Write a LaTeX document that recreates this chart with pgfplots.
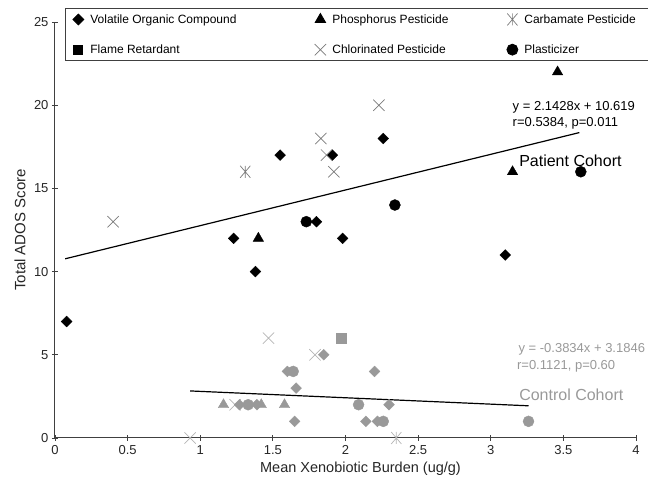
\documentclass[border=0pt]{standalone}
\usepackage{fontspec}
\setmainfont{Liberation Sans}
\usepackage{pgfplots}
\pgfplotsset{compat=1.18}
\usetikzlibrary{plotmarks}

\definecolor{axisgray}{HTML}{404040}
\definecolor{xgray}{HTML}{7A7A7A}
\definecolor{ctrlgray}{HTML}{999999}
\definecolor{ctrlxgray}{HTML}{B5B5B5}

% X with a vertical bar (carbamate marker)
\pgfdeclareplotmark{xbar}{%
  \pgfpathmoveto{\pgfqpoint{-.85\pgfplotmarksize}{-\pgfplotmarksize}}%
  \pgfpathlineto{\pgfqpoint{.85\pgfplotmarksize}{\pgfplotmarksize}}%
  \pgfpathmoveto{\pgfqpoint{-.85\pgfplotmarksize}{\pgfplotmarksize}}%
  \pgfpathlineto{\pgfqpoint{.85\pgfplotmarksize}{-\pgfplotmarksize}}%
  \pgfpathmoveto{\pgfqpoint{0pt}{-\pgfplotmarksize}}%
  \pgfpathlineto{\pgfqpoint{0pt}{\pgfplotmarksize}}%
  \pgfusepathqstroke}

\begin{document}
\begin{tikzpicture}
\useasboundingbox (-55pt,-43pt) rectangle (593pt,438pt);
\begin{axis}[
  scale only axis,
  width=581pt, height=416pt,
  xmin=0, xmax=4, ymin=0, ymax=25,
  xtick={0,0.5,...,4}, ytick={0,5,...,25},
  axis x line*=bottom, axis y line*=left,
  axis line style={axisgray, line width=1pt, -},
  tick style={axisgray, line width=0.8pt},
  tick align=center, major tick length=6pt,
  tick label style={font=\fontsize{13}{15}\selectfont, text=black!85},
  xticklabel style={yshift=-1pt},
  /pgf/number format/assume math mode=true,
  xlabel={Mean Xenobiotic Burden (ug/g)},
  ylabel={Total ADOS Score},
  xlabel style={font=\fontsize{14.5}{17}\selectfont, text=black!85,
    at={(axis description cs:0.5,0)}, anchor=center, yshift=-31pt, xshift=15pt},
  ylabel style={font=\fontsize{15}{17}\selectfont, text=black!85,
    at={(axis description cs:0,0.5)}, anchor=center, yshift=35pt},
  clip=false,
  legend columns=3,
  legend cell align=left,
  legend image code/.code={%
    \path[draw=none,fill=none] (0pt,-1pt) rectangle (19pt,1pt);
    \draw[mark repeat=2,mark phase=2] plot coordinates {(0pt,0pt)(9pt,0pt)(19pt,0pt)};},
  legend style={draw=axisgray, line width=0.8pt, at={(rel axis cs:0.0172,1.0337)}, anchor=north west,
    font=\fontsize{12}{14}\selectfont, row sep=16pt, inner sep=4pt,
    /tikz/every even column/.append style={column sep=0pt}},
]
% ---- patient cohort (legend order) ----
\addplot[only marks, mark=square*, mark size=3.8pt, mark options={rotate=45, fill=black, draw=black}] coordinates {
 (0.08,7) (1.23,12) (1.38,10) (1.55,17) (1.80,13) (1.91,17) (1.98,12) (2.26,18) (3.10,11)
};
\addlegendentry{\makebox[219pt][l]{Volatile Organic Compound}}
\addplot[only marks, mark=triangle*, mark size=6pt, mark options={fill=black, draw=black}] coordinates {
 (1.40,12) (3.15,16) (3.46,22)
};
\addlegendentry{\makebox[169pt][l]{Phosphorus Pesticide}}
\addplot[only marks, mark=xbar, mark size=6pt, mark options={draw=xgray, line width=0.7pt}] coordinates {
 (1.31,16)
};
\addlegendentry{\makebox[135pt][l]{Carbamate Pesticide}}
\addlegendimage{only marks, mark=square*, mark size=4.5pt, mark options={fill=black, draw=black}}
\addlegendentry{Flame Retardant}
\addplot[only marks, mark=x, mark size=8pt, mark options={draw=xgray, line width=0.7pt}] coordinates {
 (0.40,13) (1.83,18) (1.87,17) (1.92,16) (2.23,20)
};
\addlegendentry{Chlorinated Pesticide}
\addplot[only marks, mark=*, mark size=5.5pt, mark options={fill=black, draw=black}] coordinates {
 (1.73,13) (2.34,14) (3.62,16)
};
\addlegendentry{Plasticizer}

% ---- control cohort ----
\addplot[forget plot, only marks, mark=x, mark size=8pt, mark options={draw=ctrlxgray, line width=0.7pt}] coordinates {
 (1.47,6) (1.79,5) (1.24,2) (0.93,0)
};
\addplot[forget plot, only marks, mark=xbar, mark size=6pt, mark options={draw=ctrlxgray, line width=0.7pt}] coordinates {
 (2.35,0)
};
\addplot[forget plot, only marks, mark=triangle*, mark size=6pt, mark options={fill=ctrlgray, draw=ctrlgray}] coordinates {
 (1.16,2) (1.42,2) (1.58,2)
};
\addplot[forget plot, only marks, mark=square*, mark size=3.8pt, mark options={rotate=45, fill=ctrlgray, draw=ctrlgray}] coordinates {
 (1.85,5) (2.20,4) (1.60,4) (1.66,3) (1.27,2) (1.39,2) (2.30,2) (1.65,1) (2.14,1) (2.22,1)
};
\addplot[forget plot, only marks, mark=*, mark size=5.5pt, mark options={fill=ctrlgray, draw=ctrlgray}] coordinates {
 (1.64,4) (1.33,2) (2.09,2) (2.26,1) (3.26,1)
};
\addplot[forget plot, only marks, mark=square*, mark size=5pt, mark options={fill=ctrlgray, draw=ctrlgray}] coordinates {
 (1.97,6)
};

% ---- trend lines ----
\addplot[forget plot, black, line width=1.2pt, mark=none] coordinates {(0.07,10.769) (3.61,18.354)};
\addplot[forget plot, black, line width=1.2pt, mark=none] coordinates {(0.93,2.828) (3.26,1.935)};

% ---- annotations ----
\node[anchor=west, font=\fontsize{13}{15}\selectfont, inner sep=0pt] at (axis cs:3.15,19.85) {y = 2.1428x + 10.619};
\node[anchor=west, font=\fontsize{13}{15}\selectfont, inner sep=0pt] at (axis cs:3.15,18.93) {r=0.5384, p=0.011};
\node[anchor=west, font=\fontsize{16}{18}\selectfont, inner sep=0pt] at (axis cs:3.195,16.65) {Patient Cohort};
\node[anchor=west, font=\fontsize{13}{15}\selectfont, inner sep=0pt, text=ctrlgray] at (axis cs:3.19,5.35) {y = -0.3834x + 3.1846};
\node[anchor=west, font=\fontsize{13}{15}\selectfont, inner sep=0pt, text=ctrlgray] at (axis cs:3.18,4.33) {r=0.1121, p=0.60};
\node[anchor=west, font=\fontsize{16}{18}\selectfont, inner sep=0pt, text=ctrlgray] at (axis cs:3.195,2.58) {Control Cohort};
\end{axis}
\end{tikzpicture}
\end{document}
